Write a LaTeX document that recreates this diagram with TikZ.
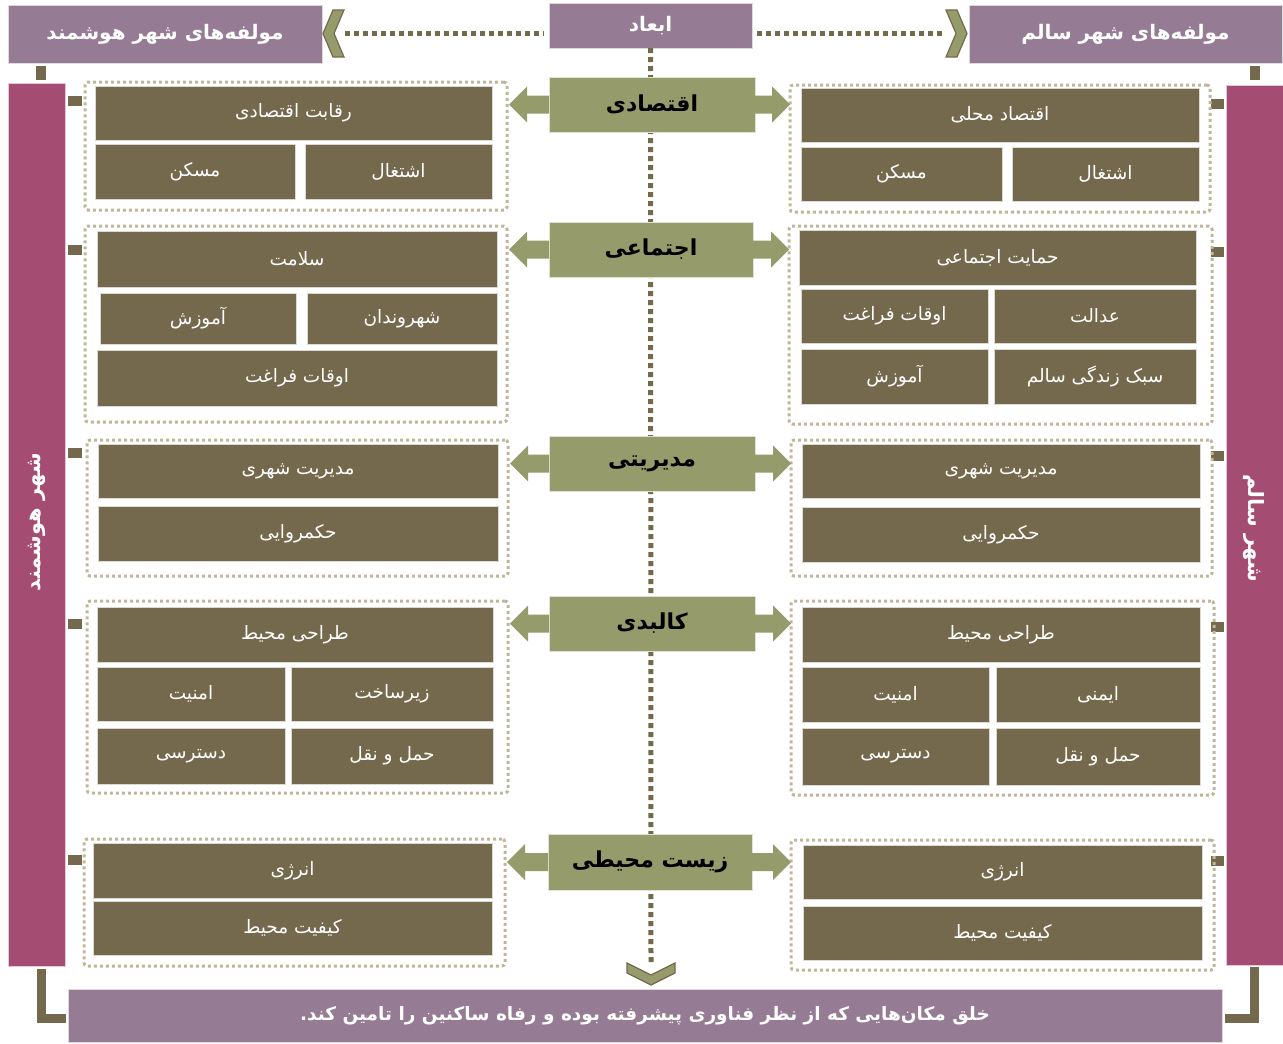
\documentclass[tikz,border=0pt]{standalone}
\usepackage{fontspec}
\usetikzlibrary{calc}
\newfontfamily\ar[Script=Arabic]{DejaVu Sans}
\TeXXeTstate=1
\definecolor{purpc}{RGB}{149,124,148}
\definecolor{pinkc}{RGB}{165,76,114}
\definecolor{cellc}{RGB}{117,105,77}
\definecolor{greenc}{RGB}{149,155,107}
\definecolor{framec}{RGB}{191,182,156}
\tikzset{
  cell/.style={fill=cellc, draw=white!75!cellc, line width=0.8pt, text=white, inner sep=0pt, outer sep=0pt, font=\ar\fontsize{18.5}{20}\selectfont},
  hdr/.style={fill=purpc, draw=white!70!purpc, line width=0.8pt, text=white, inner sep=0pt, outer sep=0pt, font=\ar\bfseries\fontsize{20}{22}\selectfont},
  hdrb/.style={hdr, font=\ar\bfseries\fontsize{18.5}{22}\selectfont},
  dimbox/.style={fill=greenc, draw=white!70!greenc, line width=0.8pt, text=black, inner sep=0pt, outer sep=0pt, font=\ar\bfseries\fontsize{22}{24}\selectfont},
  grp/.style={draw=framec, line width=3pt, dash pattern=on 3pt off 3pt, rounded corners=3pt, inner sep=0pt, outer sep=0pt},
  barbox/.style={fill=pinkc, draw=white!70!pinkc, line width=0.8pt, inner sep=0pt, outer sep=0pt},
  bartext/.style={text=white, font=\ar\bfseries\fontsize{21}{22}\selectfont, inner sep=0pt},
  dimline/.style={draw=cellc, line width=5pt, dash pattern=on 5pt off 4pt},
  chev/.style={fill=greenc, draw=cellc, line width=1.2pt, line join=miter},
  tab/.style={fill=cellc},
}
% box helper: style, name, x1, y1, x2, y2, text
\newcommand{\bx}[7]{\node[#1, minimum width={(#5-#3)*1pt}, minimum height={(#6-#4)*1pt}] (#2) at ({(#3+#5)/2},{(#4+#6)/2}) {#7};}
\newcommand{\gp}[5]{\node[grp, minimum width={(#4-#2)*1pt}, minimum height={(#5-#3)*1pt}] (#1) at ({(#2+#4)/2},{(#3+#5)/2}) {};}
\newcommand{\larr}[2]{\path[fill=greenc] let \p1=(#1.west), \p2=(#2.east) in
  (\x1,\y1+9pt) -- (\x2+20pt,\y1+9pt) -- (\x2+20pt,\y1+18pt) -- (\x2+2pt,\y1) -- (\x2+20pt,\y1-18pt) -- (\x2+20pt,\y1-9pt) -- (\x1,\y1-9pt) -- cycle;}
\newcommand{\rarr}[2]{\path[fill=greenc] let \p1=(#1.east), \p2=(#2.west) in
  (\x1,\y1+9pt) -- (\x2-18pt,\y1+9pt) -- (\x2-18pt,\y1+18pt) -- (\x2,\y1) -- (\x2-18pt,\y1-18pt) -- (\x2-18pt,\y1-9pt) -- (\x1,\y1-9pt) -- cycle;}
\begin{document}
\begin{tikzpicture}[x=1pt,y=-1pt]
\useasboundingbox (0,0) rectangle (1283,1044);
% headers
\bx{hdr}{hL}{8}{5}{322}{63}{\beginR مولفه‌های شهر هوشمند\endR}
\bx{hdr}{abad}{549}{3}{752}{48}{\beginR ابعاد\endR}
\bx{hdr}{hR}{969}{5}{1282}{63}{\beginR مولفه‌های شهر سالم\endR}
% chevrons
\coordinate (chL) at (345,33.5);
\coordinate (chR) at (945,33.5);
\coordinate (chB) at (651,964);
\draw[chev] (333,10) -- (344,10) -- (334,33.5) -- (344,57) -- (333,57) -- (323,33.5) -- cycle;
\draw[chev] (946,10) -- (957,10) -- (967,33.5) -- (957,57) -- (946,57) -- (956,33.5) -- cycle;
% dotted connectors
\draw[dimline] (chL) -- ($(chL -| abad.west)+(-5,0)$);
\draw[dimline] ($(chR -| abad.east)+(5,0)$) -- (chR);
\draw[dimline] (abad.south) -- (chB);
\draw[chev] (627,963) -- (651,975) -- (675,963) -- (675,973) -- (651,985) -- (627,973) -- cycle;
% side bars
\node[barbox, minimum width=57pt, minimum height=883pt] (barL) at (36.5,524.5) {};
\node[barbox, minimum width=57pt, minimum height=880pt] (barR) at (1254.5,525) {};
\node[bartext, rotate=90] (barLt) at (37,522) {\beginR شهر هوشمند\endR};
\node[bartext, rotate=-90] (barRt) at (1254,528) {\beginR شهر سالم\endR};
% small tabs
\fill[tab] (36,66) rectangle (46,80);
\fill[tab] (1250,66) rectangle (1260,80);
\foreach \yy in {101,250,453,624,860} {\fill[tab] (68,\yy-5) rectangle (82,\yy+5);}
\foreach \yy in {104,252,456,627,861} {\fill[tab] (1211,\yy-5) rectangle (1224,\yy+5);}
% bottom L connectors
\draw[cellc, line width=9pt, line join=miter] (41,969) -- (41,1018.5) -- (66,1018.5);
\draw[cellc, line width=9pt, line join=miter] (1254.5,967) -- (1254.5,1018.5) -- (1225,1018.5);
% dimension boxes
\bx{dimbox}{d1}{549}{77}{755}{132}{\beginR اقتصادی\endR}
\bx{dimbox}{d2}{549}{222}{753}{277}{\beginR اجتماعی\endR}
\bx{dimbox}{d3}{549}{436}{755}{491}{\beginR مدیریتی\endR}
\bx{dimbox}{d4}{549}{596}{755}{651}{\beginR کالبدی\endR}
\bx{dimbox}{d5}{548}{834}{752}{890}{\beginR زیست محیطی\endR}
% group frames
\gp{fL1}{85}{82}{507}{210}
\gp{fL2}{85}{226}{507}{422}
\gp{fL3}{87}{440}{508}{576}
\gp{fL4}{87}{601}{508}{793}
\gp{fL5}{84}{839}{505}{966}
\gp{fR1}{790}{85}{1210}{212}
\gp{fR2}{789}{226}{1212}{424}
\gp{fR3}{791}{440}{1212}{576}
\gp{fR4}{791}{601}{1214}{795}
\gp{fR5}{791}{840}{1214}{970}
% arrows
\larr{d1}{fL1} \rarr{d1}{fR1}
\larr{d2}{fL2} \rarr{d2}{fR2}
\larr{d3}{fL3} \rarr{d3}{fR3}
\larr{d4}{fL4} \rarr{d4}{fR4}
\larr{d5}{fL5} \rarr{d5}{fR5}
% left cells
\bx{cell}{L1a}{95}{86}{492}{140}{\beginR رقابت اقتصادی\endR}
\bx{cell}{L1b}{95}{144}{295}{199}{\beginR مسکن\endR}
\bx{cell}{L1c}{305}{144}{492}{199}{\beginR اشتغال\endR}
\bx{cell}{L2a}{97}{231}{497}{287}{\beginR سلامت\endR}
\bx{cell}{L2b}{100}{293}{296}{344}{\beginR آموزش\endR}
\bx{cell}{L2c}{307}{293}{497}{344}{\beginR شهروندان\endR}
\bx{cell}{L2d}{97}{350}{497}{406}{\beginR اوقات فراغت\endR}
\bx{cell}{L3a}{98}{444}{498}{498}{\beginR مدیریت شهری\endR}
\bx{cell}{L3b}{98}{506}{498}{561}{\beginR حکمروایی\endR}
\bx{cell}{L4a}{97}{607}{493}{662}{\beginR طراحی محیط\endR}
\bx{cell}{L4b}{97}{667}{285}{721}{\beginR امنیت\endR}
\bx{cell}{L4c}{291}{667}{493}{721}{\beginR زیرساخت\endR}
\bx{cell}{L4d}{97}{728}{285}{784}{\beginR دسترسی\endR}
\bx{cell}{L4e}{291}{728}{493}{784}{\beginR حمل و نقل\endR}
\bx{cell}{L5a}{93}{843}{492}{898}{\beginR انرژی\endR}
\bx{cell}{L5b}{93}{901}{492}{955}{\beginR کیفیت محیط\endR}
% right cells
\bx{cell}{R1a}{801}{88}{1199}{142}{\beginR اقتصاد محلی\endR}
\bx{cell}{R1b}{801}{147}{1002}{201}{\beginR مسکن\endR}
\bx{cell}{R1c}{1012}{147}{1199}{201}{\beginR اشتغال\endR}
\bx{cell}{R2a}{799}{230}{1196}{285}{\beginR حمایت اجتماعی\endR}
\bx{cell}{R2b}{801}{289}{988}{343}{\beginR اوقات فراغت\endR}
\bx{cell}{R2c}{994}{289}{1196}{343}{\beginR عدالت\endR}
\bx{cell}{R2d}{801}{349}{988}{404}{\beginR آموزش\endR}
\bx{cell}{R2e}{994}{349}{1196}{404}{\beginR سبک زندگی سالم\endR}
\bx{cell}{R3a}{802}{444}{1200}{498}{\beginR مدیریت شهری\endR}
\bx{cell}{R3b}{802}{507}{1200}{562}{\beginR حکمروایی\endR}
\bx{cell}{R4a}{802}{607}{1200}{662}{\beginR طراحی محیط\endR}
\bx{cell}{R4b}{802}{667}{989}{722}{\beginR امنیت\endR}
\bx{cell}{R4c}{996}{667}{1200}{722}{\beginR ایمنی\endR}
\bx{cell}{R4d}{802}{728}{989}{785}{\beginR دسترسی\endR}
\bx{cell}{R4e}{996}{728}{1200}{785}{\beginR حمل و نقل\endR}
\bx{cell}{R5a}{803}{845}{1202}{899}{\beginR انرژی\endR}
\bx{cell}{R5b}{803}{906}{1202}{960}{\beginR کیفیت محیط\endR}
% bottom
\bx{hdrb}{bot}{68}{989}{1222}{1042}{\beginR خلق مکان‌هایی که از نظر فناوری پیشرفته بوده و رفاه ساکنین را تامین کند.\endR}
\end{tikzpicture}
\end{document}
